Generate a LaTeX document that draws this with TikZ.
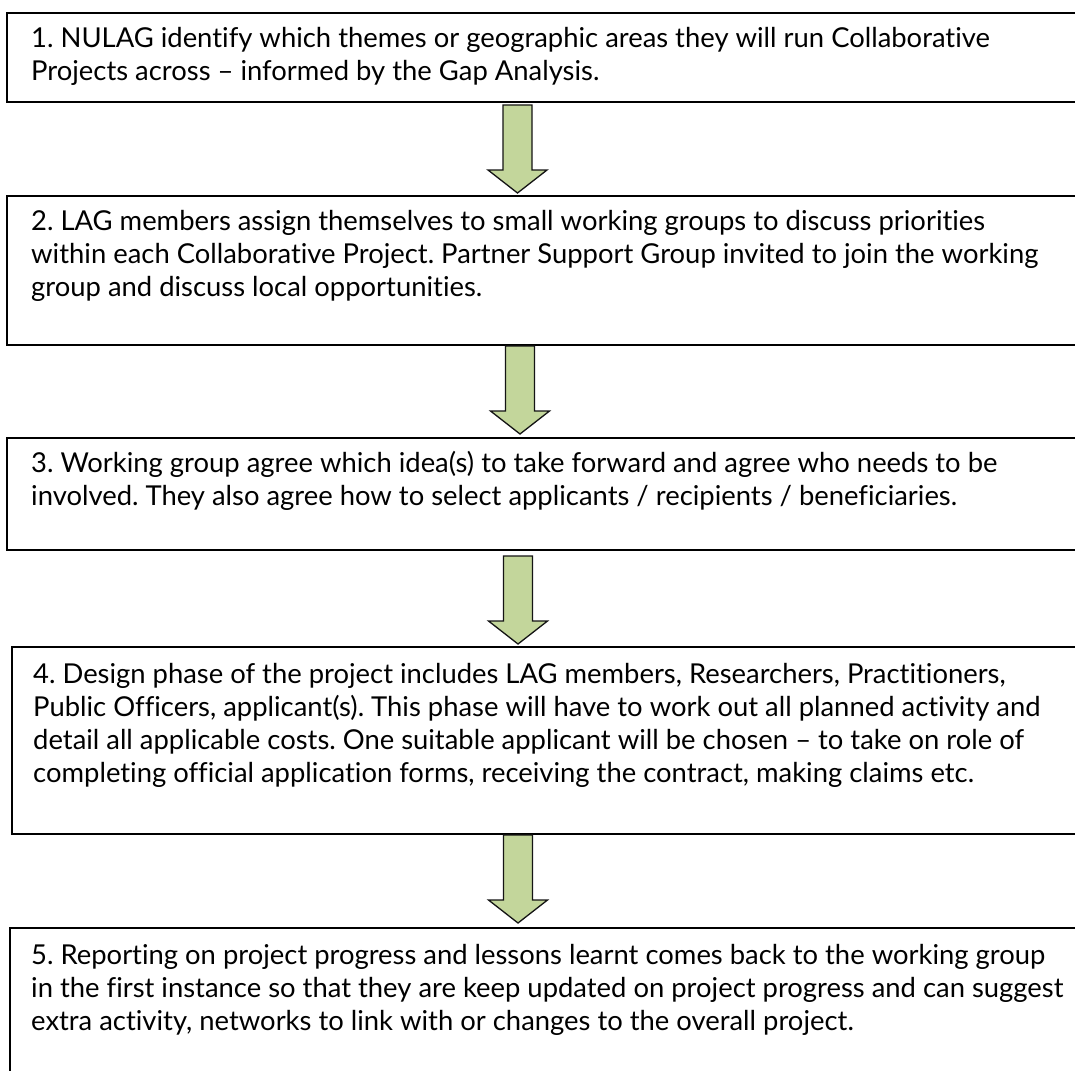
\documentclass[tikz,border=0pt]{standalone}
\usepackage{fontspec}
\setmainfont{Lato}[Ligatures=NoCommon]
\definecolor{arrowgreen}{RGB}{195,214,155}
\definecolor{arrowline}{RGB}{20,20,20}
\frenchspacing
\begin{document}
\begin{tikzpicture}[x=1pt,y=-1pt,
  stepbox/.style={draw=black,line width=1.6pt},
  steptext/.style={anchor=north west,inner sep=0pt,align=left,
    font=\fontsize{27.4}{33}\selectfont\frenchspacing},
  blockarrow/.pic={
    \draw[fill=arrowgreen,draw=arrowline,line width=1.3pt,line join=miter]
      (-14.5,0) -- (14.5,0) -- (14.5,65) -- (29.5,65) -- (0,88)
      -- (-29.5,65) -- (-14.5,65) -- cycle;
  }]
\useasboundingbox (0,0) rectangle (1075,1070);
\clip (0,0) rectangle (1075,1070);
\fill[white] (0,0) rectangle (1075,1070);

% boxes
\draw[stepbox] (7,13) rectangle (1085,102);
\draw[stepbox] (7,196) rectangle (1085,345);
\draw[stepbox] (7,438) rectangle (1085,550);
\draw[stepbox] (12,647) rectangle (1085,834);
\draw[stepbox] (10,928) rectangle (1085,1080);

% texts
\node[steptext] (t1) at (31,23.9) {\strut 1. NULAG identify which themes or geographic areas they will run Collaborative\\
Projects across -- informed by the Gap Analysis.};
\node[steptext] (t2) at (31,206.9) {\strut 2. LAG members assign themselves to small working groups to discuss priorities\\
within each Collaborative Project. Partner Support Group invited to join the working\\
group and discuss local opportunities.};
\node[steptext] (t3) at (31,448.9) {\strut 3. Working group agree which idea(s) to take forward and agree who needs to be\\
involved. They also agree how to select applicants / recipients / beneficiaries.};
\node[steptext] (t4) at (33,659.9) {\strut 4. Design phase of the project includes LAG members, Researchers, Practitioners,\\
Public Officers, applicant(s). This phase will have to work out all planned activity and\\
detail all applicable costs. One suitable applicant will be chosen -- to take on role of\\
completing official application forms, receiving the contract, making claims etc.};
\node[steptext] (t5) at (31,940.9) {\strut 5. Reporting on project progress and lessons learnt comes back to the working group\\
in the first instance so that they are keep updated on project progress and can suggest\\
extra activity, networks to link with or changes to the overall project.};

% arrows
\pic at (517.5,105) {blockarrow};
\pic at (520,346) {blockarrow};
\pic at (518,556) {blockarrow};
\pic at (518,835) {blockarrow};
\end{tikzpicture}
\end{document}
